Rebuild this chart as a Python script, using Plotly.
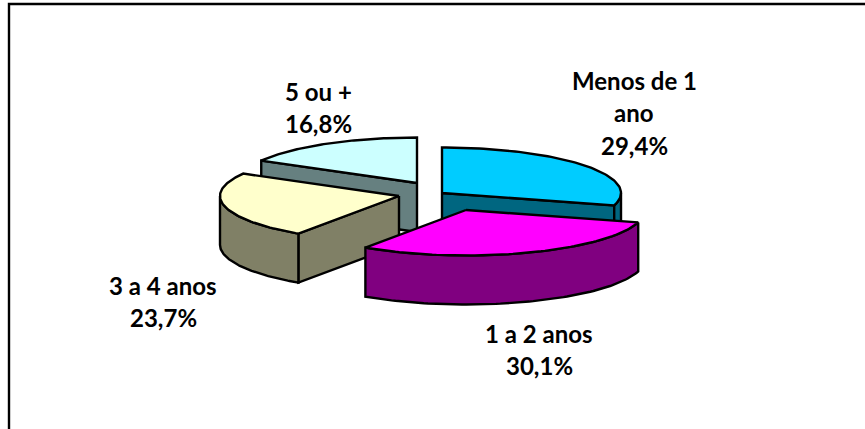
import numpy as np
import plotly.graph_objects as go

categories = ["Menos de 1 ano", "1 a 2 anos", "3 a 4 anos", "5 ou +"]
shares = [29.4, 30.1, 23.7, 16.8]
value_labels = ["29,4%", "30,1%", "23,7%", "16,8%"]

top_colors = ["#00CCFF", "#FF00FF", "#FFFFCC", "#CCFFFF"]
wall_colors = ["#006680", "#800080", "#808066", "#668080"]
apex = [(442, 193), (466, 210), (399, 196), (417, 183)]
draw_order = [3, 0, 2, 1]
label_lines = [["Menos de 1", "ano"], ["1 a 2 anos"], ["3 a 4 anos"], ["5 ou +"]]
label_pos = [(634, 80), (539, 333), (163, 285), (318, 91)]
LINE_GAP = 32.5
RX, RY, DEPTH = 179, 45.5, 49

total = sum(shares)
edges = np.concatenate([[0], np.cumsum(shares)]) / total * 360


def pt(c, deg, z=0):
    r = np.radians(deg)
    return c[0] + RX * np.sin(r), c[1] - RY * np.cos(r) + z


def add_poly(fig, xs, ys, color):
    fig.add_trace(go.Scatter(x=list(xs), y=list(ys), mode="lines", fill="toself",
                             fillcolor=color, line=dict(color="black", width=2.4),
                             hoverinfo="skip", showlegend=False))


fig = go.Figure()
for i in draw_order:
    a0, a1 = edges[i], edges[i + 1]
    c = apex[i]
    arc = np.linspace(a0, a1, 80)
    # back radial faces first, then the outer wall, then the top
    faces = []
    if np.sin(np.radians(a0)) < -1e-6:
        faces.append(a0)
    if np.sin(np.radians(a1)) > 1e-6:
        faces.append(a1)
    for a in faces:
        p = pt(c, a)
        add_poly(fig, [c[0], p[0], p[0], c[0], c[0]],
                 [c[1], p[1], p[1] + DEPTH, c[1] + DEPTH, c[1]], wall_colors[i])
    lo, hi = max(a0, 90), min(a1, 270)
    if hi > lo:
        w = np.linspace(lo, hi, 80)
        top = [pt(c, a) for a in w]
        bot = [pt(c, a, DEPTH) for a in w[::-1]]
        pts = top + bot + [top[0]]
        add_poly(fig, [q[0] for q in pts], [q[1] for q in pts], wall_colors[i])
    rim = [pt(c, a) for a in arc]
    pts = [c] + rim + [c]
    add_poly(fig, [q[0] for q in pts], [q[1] for q in pts], top_colors[i])

annotations = []
for i in range(len(categories)):
    lines = label_lines[i] + [value_labels[i]]
    x, y = label_pos[i]
    for k, t in enumerate(lines):
        annotations.append(dict(x=x, y=y + k * LINE_GAP, text=t, showarrow=False,
                                xanchor="center", yanchor="middle",
                                font=dict(family="Lato", size=24, color="black", weight="bold")))

fig.update_layout(
    width=865, height=429, margin=dict(l=0, r=0, t=0, b=0),
    paper_bgcolor="white", plot_bgcolor="white", showlegend=False,
    xaxis=dict(range=[0, 865], visible=False, fixedrange=True),
    yaxis=dict(range=[429, 0], visible=False, fixedrange=True),
    annotations=annotations,
    shapes=[dict(type="path", path="M 9 429 L 9 4 L 865 4", xref="x", yref="y",
                 line=dict(color="black", width=2.4))],
)
fig.write_html("out.html", post_script="document.body.style.margin='0';document.documentElement.style.overflow='hidden';",
               config={"displayModeBar": False})
